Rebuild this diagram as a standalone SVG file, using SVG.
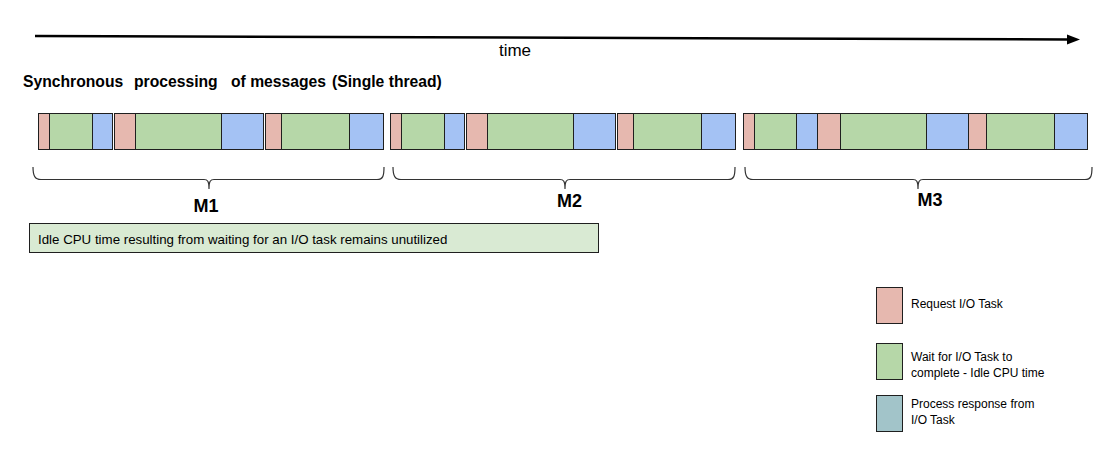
<svg xmlns="http://www.w3.org/2000/svg" width="1120" height="466" viewBox="0 0 1120 466">
<style>
text { font-family: "Liberation Sans", Arial, sans-serif; fill: #000; }
.seg { stroke: #1f1f1f; stroke-width: 1; }
.r { fill: #e6b8af; }
.g { fill: #b6d7a8; }
.b { fill: #a4c2f4; }
.t { fill: #a2c4c9; }
.brace { fill: none; stroke: #333; stroke-width: 1.2; }
.lbl { font-size: 18px; font-weight: bold; text-anchor: middle; }
.leg { font-size: 12px; }
</style>
<rect width="1120" height="466" fill="#fff"/>
<g id="time-axis">
  <path d="M35,36 L1068,39.5" stroke="#000" stroke-width="2.5" fill="none"/>
  <polygon points="1067,34.5 1080,39.5 1067,44.5" fill="#000"/>
  <text x="515" y="56" font-size="17" text-anchor="middle">time</text>
</g>
<text id="title" y="87" font-size="15.7" font-weight="bold"><tspan x="23">Synchronous</tspan><tspan x="134">processing</tspan><tspan x="231">of messages</tspan><tspan x="332">(Single thread)</tspan></text>
<g id="m1-bar">
  <rect class="seg r" x="38.5" y="113.5" width="11" height="36"/>
  <rect class="seg g" x="49.5" y="113.5" width="43" height="36"/>
  <rect class="seg b" x="92.5" y="113.5" width="20" height="36"/>
  <rect class="seg r" x="114.5" y="113.5" width="21" height="36"/>
  <rect class="seg g" x="135.5" y="113.5" width="86" height="36"/>
  <rect class="seg b" x="221.5" y="113.5" width="42" height="36"/>
  <rect class="seg r" x="265.5" y="113.5" width="16" height="36"/>
  <rect class="seg g" x="281.5" y="113.5" width="68" height="36"/>
  <rect class="seg b" x="349.5" y="113.5" width="34" height="36"/>
</g>
<g id="m2-bar">
  <rect class="seg r" x="390.5" y="113.5" width="11" height="36"/>
  <rect class="seg g" x="401.5" y="113.5" width="43" height="36"/>
  <rect class="seg b" x="444.5" y="113.5" width="20" height="36"/>
  <rect class="seg r" x="466.5" y="113.5" width="21" height="36"/>
  <rect class="seg g" x="487.5" y="113.5" width="86" height="36"/>
  <rect class="seg b" x="573.5" y="113.5" width="42" height="36"/>
  <rect class="seg r" x="617.5" y="113.5" width="16" height="36"/>
  <rect class="seg g" x="633.5" y="113.5" width="68" height="36"/>
  <rect class="seg b" x="701.5" y="113.5" width="34" height="36"/>
</g>
<g id="m3-bar">
  <rect class="seg r" x="743.5" y="113.5" width="11" height="36"/>
  <rect class="seg g" x="754.5" y="113.5" width="42" height="36"/>
  <rect class="seg b" x="796.5" y="113.5" width="21" height="36"/>
  <rect class="seg r" x="817.5" y="113.5" width="23" height="36"/>
  <rect class="seg g" x="840.5" y="113.5" width="86" height="36"/>
  <rect class="seg b" x="926.5" y="113.5" width="42" height="36"/>
  <rect class="seg r" x="968.5" y="113.5" width="18" height="36"/>
  <rect class="seg g" x="986.5" y="113.5" width="68" height="36"/>
  <rect class="seg b" x="1054.5" y="113.5" width="33" height="36"/>
</g>
<g id="m1">
  <path class="brace" d="M33,167 C33,176 35,179.5 41,179.5 H204 C207.5,179.5 209,181 209,189 C209,181 210.5,179.5 214,179.5 H377 C383,179.5 384,176 384,167"/>
  <text class="lbl" x="206" y="212">M1</text>
</g>
<g id="m2">
  <path class="brace" d="M393,167 C393,176 395,179.5 401,179.5 H560 C563.5,179.5 565,181 565,189 C565,181 566.5,179.5 570,179.5 H728 C734,179.5 735,176 735,167"/>
  <text class="lbl" x="569.5" y="207">M2</text>
</g>
<g id="m3">
  <path class="brace" d="M745,167 C745,176 747,179.5 753,179.5 H913 C916.5,179.5 918,181 918,189 C918,181 919.5,179.5 923,179.5 H1085 C1091,179.5 1092,176 1092,167"/>
  <text class="lbl" x="930" y="206">M3</text>
</g>
<g id="note">
  <rect x="29.5" y="223.5" width="569" height="29" fill="#d9ead3" stroke="#1f1f1f" stroke-width="1"/>
  <text x="38" y="244" font-size="13.3">Idle CPU time resulting from waiting for an I/O task remains unutilized</text>
</g>
<g id="legend-request">
  <rect class="seg r" x="876.5" y="287.5" width="26" height="36"/>
  <text class="leg" x="911" y="308">Request I/O Task</text>
</g>
<g id="legend-wait">
  <rect class="seg g" x="876.5" y="343.5" width="26" height="36"/>
  <text class="leg" x="911" y="361">Wait for I/O Task to</text>
  <text class="leg" x="911" y="377">complete - Idle CPU time</text>
</g>
<g id="legend-process">
  <rect class="seg t" x="876.5" y="395.5" width="26" height="36"/>
  <text class="leg" x="911" y="408">Process response from</text>
  <text class="leg" x="911" y="424">I/O Task</text>
</g>
</svg>
